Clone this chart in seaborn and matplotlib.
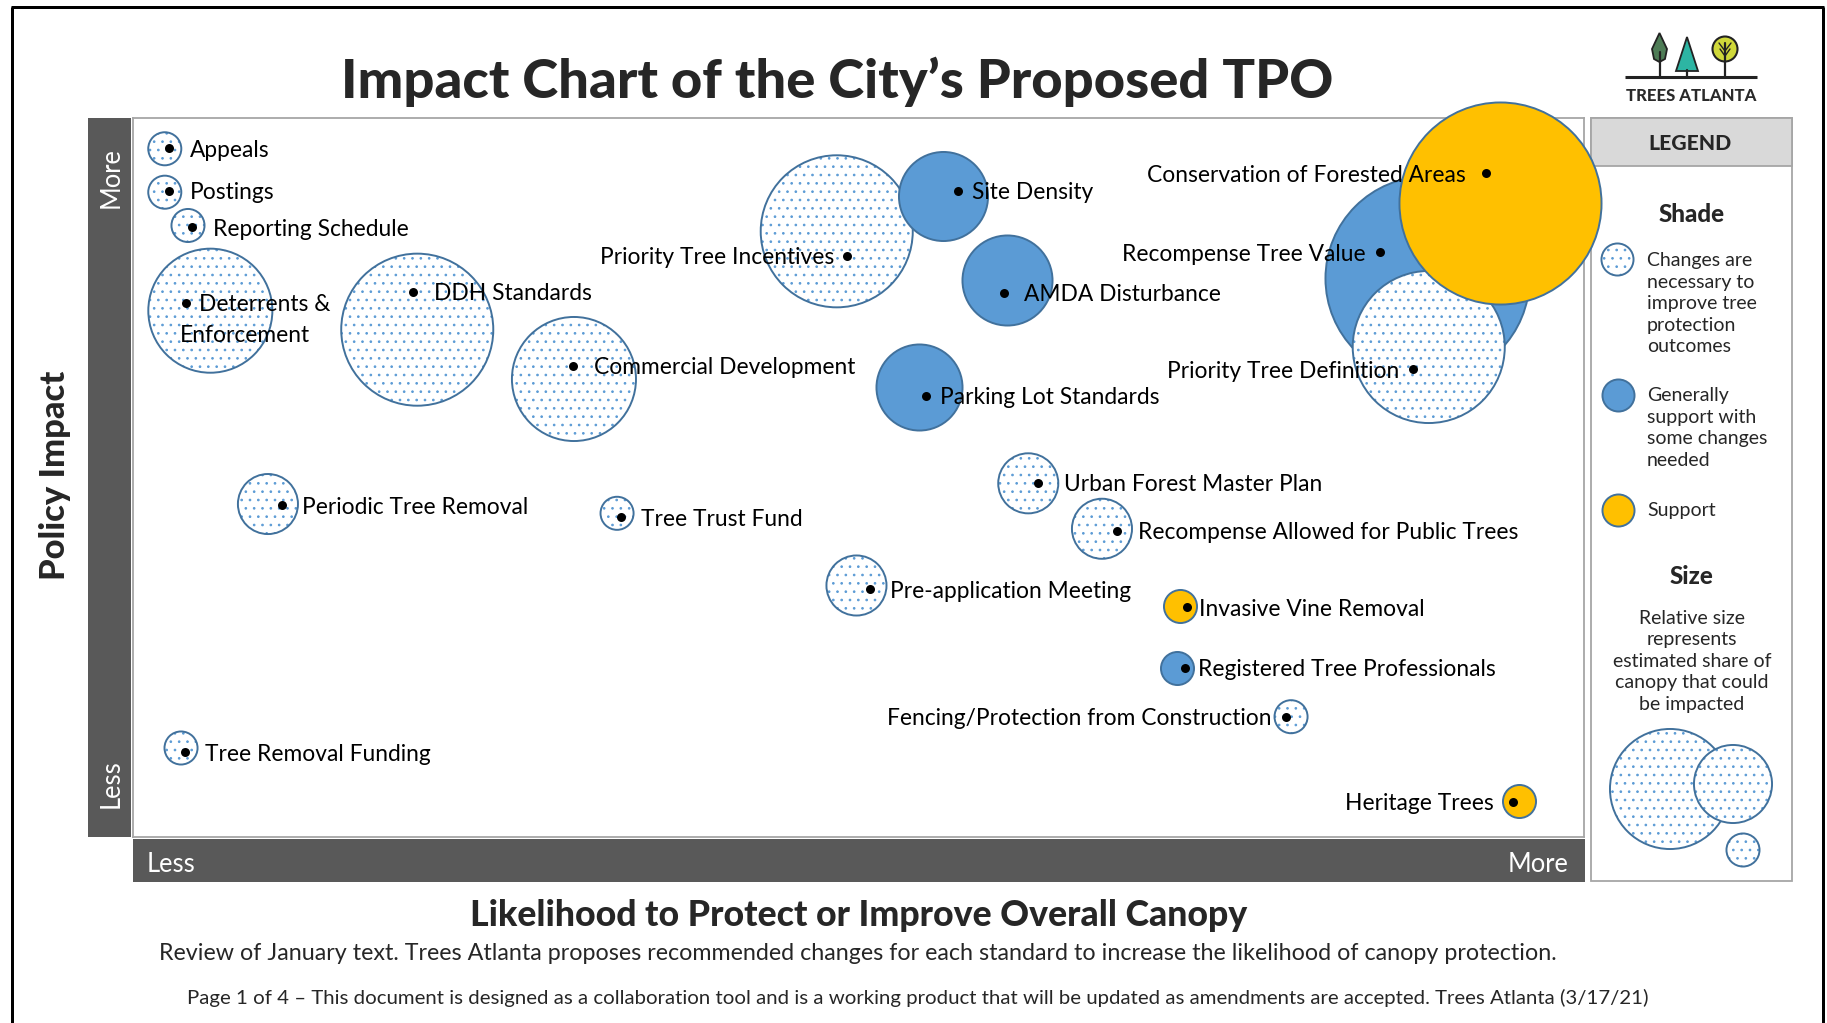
import numpy as np
import pandas as pd
import matplotlib
matplotlib.use("Agg")
import matplotlib.pyplot as plt
import seaborn as sns
from matplotlib.font_manager import FontProperties
from matplotlib.patches import Rectangle, Polygon, Circle

# ---------------- data ----------------
standards = ["Appeals", "Postings", "Reporting Schedule", "Deterrents &\nEnforcement",
             "DDH Standards", "Commercial Development", "Priority Tree Incentives",
             "Site Density", "AMDA Disturbance", "Parking Lot Standards",
             "Recompense Tree Value", "Priority Tree Definition",
             "Conservation of Forested Areas", "Periodic Tree Removal", "Tree Trust Fund",
             "Urban Forest Master Plan", "Recompense Allowed for Public Trees",
             "Pre-application Meeting", "Invasive Vine Removal",
             "Registered Tree Professionals", "Fencing/Protection from Construction",
             "Tree Removal Funding", "Heritage Trees"]
# bubble centres: likelihood to protect canopy (x, 0-100) and policy impact (y, 0-100)
likelihood = [2.19, 2.19, 3.79, 5.33, 19.59, 30.39, 48.50, 55.84, 60.21, 54.17,
              89.18, 89.30, 94.20, 9.30, 33.36, 61.70, 66.78, 49.86, 72.14,
              71.97, 79.81, 3.31, 95.49]
impact = [95.72, 89.68, 85.05, 73.20, 70.56, 63.70, 84.24, 89.12, 77.47, 62.63,
          77.75, 68.15, 88.18, 46.31, 45.02, 49.19, 42.87, 34.98, 32.09,
          23.55, 16.73, 12.38, 5.03]
# relative share of canopy that could be impacted (bubble diameter units)
canopy_share = [35, 35, 35, 126, 154, 126, 154, 91, 92, 88,
                206, 154, 204, 62, 35, 62, 62, 62, 35, 35, 35, 35, 35]
# shade category
shade = ["changes", "changes", "changes", "changes", "changes", "changes", "changes",
         "some", "some", "some", "some", "changes", "support", "changes", "changes",
         "changes", "changes", "changes", "support", "some", "changes", "changes",
         "support"]
# label marker (black dot) positions
marker_x = [2.50, 2.50, 4.09, 3.63, 19.32, 30.34, 49.23, 56.88, 60.05, 54.65,
            85.94, 88.24, 93.25, 10.25, 33.63, 62.36, 67.82, 50.78, 72.63,
            72.53, 79.43, 3.58, 95.09]
marker_y = [95.79, 89.85, 84.80, 74.31, 75.84, 65.51, 80.81, 89.89, 75.70, 61.34,
            81.32, 65.05, 92.31, 46.13, 44.46, 49.28, 42.56, 34.45, 31.95,
            23.55, 16.73, 11.78, 4.91]

# ---------------- layout (not data) ----------------
label_side = ["R", "R", "R", "R", "R", "R", "L", "R", "R", "R", "L", "L", "L",
              "R", "R", "R", "R", "R", "R", "R", "L", "R", "L"]
label_gap_px = [20.7, 20.7, 20.4, 13.6, 20.7, 20.7, 13.3, 13.4, 19.7, 14, 14, 14.3,
                20.3, 20.5, 20, 26.5, 21, 20, 12.6, 12.6, 13.9, 20, 19.1]

FIG_W, FIG_H, DPI = 1827, 1023, 100
PX2PT = 72.0 / DPI
FONT = ["Lato", "DejaVu Sans"]

BLUE_FILL = "#5B9BD5"
EDGE = "#41719C"
YELLOW = "#FFC000"
DOTS = "#5B9BD5"
BAR = "#595959"
BORDER = "#A6A6A6"

sns.set_style("white")
plt.rcParams["font.family"] = FONT
plt.rcParams["hatch.linewidth"] = 0.7

fig = plt.figure(figsize=(FIG_W / DPI, FIG_H / DPI), dpi=DPI, facecolor="white")
renderer = fig.canvas.get_renderer()


def fit(text, target_px, weight="normal"):
    fp = FontProperties(family=FONT, weight=weight, size=20)
    w, _, _ = renderer.get_text_width_height_descent(text, fp, ismath=False)
    return 20.0 * target_px / w


# canvas axes in pixel units for page furniture
cv = fig.add_axes([0, 0, 1, 1])
cv.set_xlim(0, FIG_W)
cv.set_ylim(FIG_H, 0)
cv.axis("off")
cv.set_zorder(0)

# outer black frame
lw_frame = 3 * PX2PT
cv.plot([12, 12], [7, FIG_H], color="black", lw=lw_frame, solid_capstyle="butt")
cv.plot([1823, 1823], [7, FIG_H], color="black", lw=lw_frame, solid_capstyle="butt")
cv.plot([11, 1824], [7, 7], color="black", lw=lw_frame, solid_capstyle="butt")

# main plotting axes
PL, PR, PT, PB = 133, 1584, 118, 837
ax = fig.add_axes([PL / FIG_W, 1 - PB / FIG_H, (PR - PL) / FIG_W, (PB - PT) / FIG_H])
ax.set_zorder(2)
ax.patch.set_facecolor("white")

df = pd.DataFrame({"standard": standards, "likelihood": likelihood, "impact": impact,
                   "share": canopy_share, "shade": shade,
                   "mx": marker_x, "my": marker_y})

LW = 1.4


def bubble_area(d_px):
    d_pt = d_px * PX2PT - LW
    return d_pt ** 2


for i, row in df.iterrows():
    z = 3 + i * 0.02
    s = bubble_area(row["share"])
    if row["shade"] == "changes":
        ax.scatter([row["likelihood"]], [row["impact"]], s=s, facecolor="white",
                   edgecolor=DOTS, hatch="..", linewidth=0, zorder=z, clip_on=False)
        ax.scatter([row["likelihood"]], [row["impact"]], s=s, facecolor="none",
                   edgecolor=EDGE, linewidth=LW, zorder=z + 0.01, clip_on=False)
    else:
        fc = BLUE_FILL if row["shade"] == "some" else YELLOW
        ax.scatter([row["likelihood"]], [row["impact"]], s=s, facecolor=fc,
                   edgecolor=EDGE, linewidth=LW, zorder=z, clip_on=False)

sns.scatterplot(data=df, x="mx", y="my", ax=ax, color="black", s=(9 * PX2PT) ** 2,
                linewidth=0, zorder=20, clip_on=False, legend=False)

lab_fs = fit("Recompense Allowed for Public Trees", 380)
DY = -1.8 * PX2PT
for i, row in df.iterrows():
    lines = row["standard"].split("\n")
    gap = label_gap_px[i] * PX2PT
    if label_side[i] == "R":
        ax.annotate(lines[0], (row["mx"], row["my"]), xytext=(gap, DY),
                    textcoords="offset points", ha="left", va="center",
                    fontsize=lab_fs, color="black", zorder=21, annotation_clip=False)
    else:
        ax.annotate(lines[0], (row["mx"], row["my"]), xytext=(-gap, DY),
                    textcoords="offset points", ha="right", va="center",
                    fontsize=lab_fs, color="black", zorder=21, annotation_clip=False)
    for k, ln in enumerate(lines[1:], start=1):
        ax.annotate(ln, (row["mx"], row["my"]),
                    xytext=(-5.7 * PX2PT, DY - 31.3 * PX2PT * k),
                    textcoords="offset points", ha="left", va="center",
                    fontsize=lab_fs, color="black", zorder=21, annotation_clip=False)

ax.set_xlim(0, 100)
ax.set_ylim(0, 100)
ax.set_xticks([])
ax.set_yticks([])
ax.set_xlabel("")
ax.set_ylabel("")
for sp in ax.spines.values():
    sp.set_visible(True)
    sp.set_color(BORDER)
    sp.set_linewidth(1.3)
    sp.set_zorder(2.5)

# side bars
cv.add_patch(Rectangle((88, 118), 43, 719, facecolor=BAR, edgecolor="none"))
cv.add_patch(Rectangle((133, 839), 1452, 43, facecolor=BAR, edgecolor="none"))
bar_fs = fit("More", 61)
cv.text(111, 178, "More", rotation=90, ha="center", va="center", color="white",
        fontsize=bar_fs)
cv.text(111, 784, "Less", rotation=90, ha="center", va="center", color="white",
        fontsize=bar_fs)
cv.text(147, 864, "Less", ha="left", va="center", color="white", fontsize=bar_fs)
cv.text(1569, 864, "More", ha="right", va="center", color="white", fontsize=bar_fs)

# axis titles
cv.text(55, 475, "Policy Impact", rotation=90, ha="center", va="center",
        fontsize=fit("Policy Impact", 210, "black"), fontweight="black")
cv.text(858.5, 915, "Likelihood to Protect or Improve Overall Canopy", ha="center",
        va="center", fontweight="black",
        fontsize=fit("Likelihood to Protect or Improve Overall Canopy", 777, "black"))
sub = ("Review of January text. Trees Atlanta proposes recommended changes for each "
       "standard to increase the likelihood of canopy protection.")
cv.text(858, 953, sub, ha="center", va="center", fontsize=fit(sub, 1397))
foot = ("Page 1 of 4 \u2013 This document is designed as a collaboration tool and is a "
        "working product that will be updated as amendments are accepted. "
        "Trees Atlanta (3/17/21)")
cv.text(918, 998, foot, ha="center", va="center", fontsize=fit(foot, 1458))

# title
title = "Impact Chart of the City\u2019s Proposed TPO"
cv.text(837, 98, title, ha="center", va="baseline", fontweight="black",
        fontsize=fit(title, 994, "black"))

# logo
cv.plot([1625, 1757], [77, 77], color="#222222", lw=2.2, solid_capstyle="butt")
cv.plot([1659.5, 1659.5], [52, 77], color="#222222", lw=1.6)
cv.add_patch(Polygon([(1659.5, 33), (1667, 49), (1665, 59), (1659.5, 62), (1654, 59),
                      (1652, 49)], closed=True, facecolor="#4E7C56", edgecolor="#222222",
                     lw=1.3))
cv.plot([1687, 1687], [70, 77], color="#222222", lw=1.6)
cv.add_patch(Polygon([(1676, 71), (1698, 71), (1687, 37)], closed=True,
                     facecolor="#2DB5A3", edgecolor="#222222", lw=1.3))
cv.add_patch(Circle((1725, 49), 12.5, facecolor="#CFD83A", edgecolor="#222222", lw=1.5))
cv.plot([1725, 1725], [43, 77], color="#222222", lw=1.6)
cv.plot([1719, 1725, 1731], [43, 51, 43], color="#222222", lw=1.0)
cv.plot([1720, 1725, 1730], [49, 56, 49], color="#222222", lw=1.0)
cv.text(1691.5, 96, "TREES ATLANTA", ha="center", va="center", color="#2A2A2A",
        fontweight="black", fontsize=fit("TREES ATLANTA", 131, "black"))

# legend panel
LL, LR, LT, LB = 1591, 1792, 118, 881
cv.add_patch(Rectangle((LL, LT), LR - LL, LB - LT, facecolor="white", edgecolor=BORDER,
                       lw=1.3))
cv.add_patch(Rectangle((LL, LT), LR - LL, 48, facecolor="#D9D9D9", edgecolor=BORDER,
                       lw=1.3))
cv.text(1690, 144, "LEGEND", ha="center", va="center", fontweight="black",
        fontsize=fit("LEGEND", 83, "black"))
head_fs = fit("Shade", 66, "black")
cv.text(1692, 214.5, "Shade", ha="center", va="center", fontweight="black",
        fontsize=head_fs)
cv.text(1692, 577, "Size", ha="center", va="center", fontweight="black",
        fontsize=head_fs)
leg_fs = fit("estimated share of", 159)
PITCH = 21.6
shade_items = [("changes", 259.5, ["Changes are", "necessary to", "improve tree",
                                   "protection", "outcomes"]),
               ("some", 394.5, ["Generally", "support with", "some changes", "needed"]),
               ("support", 509.5, ["Support"])]


def legend_bubble(x, y, d_px, kind, z):
    s = bubble_area(d_px)
    if kind == "changes":
        cv.scatter([x], [y], s=s, facecolor="white", edgecolor=DOTS, hatch="..",
                   linewidth=0, zorder=z)
        cv.scatter([x], [y], s=s, facecolor="none", edgecolor=EDGE, linewidth=LW,
                   zorder=z + 0.01)
    else:
        fc = BLUE_FILL if kind == "some" else YELLOW
        cv.scatter([x], [y], s=s, facecolor=fc, edgecolor=EDGE, linewidth=LW, zorder=z)


for kind, y0, lines in shade_items:
    legend_bubble(1617.5, y0, 34, kind, 3)
    for k, ln in enumerate(lines):
        cv.text(1647, y0 + 1 + k * PITCH, ln, ha="left", va="center", fontsize=leg_fs)
for k, ln in enumerate(["Relative size", "represents", "estimated share of",
                        "canopy that could", "be impacted"]):
    cv.text(1692, 618 + k * PITCH, ln, ha="center", va="center", fontsize=leg_fs)
legend_bubble(1670, 789, 122, "changes", 3)
legend_bubble(1733, 784, 80, "changes", 3.1)
legend_bubble(1743, 850, 35, "changes", 3.2)

fig.savefig("out.png", dpi=DPI, facecolor="white")
